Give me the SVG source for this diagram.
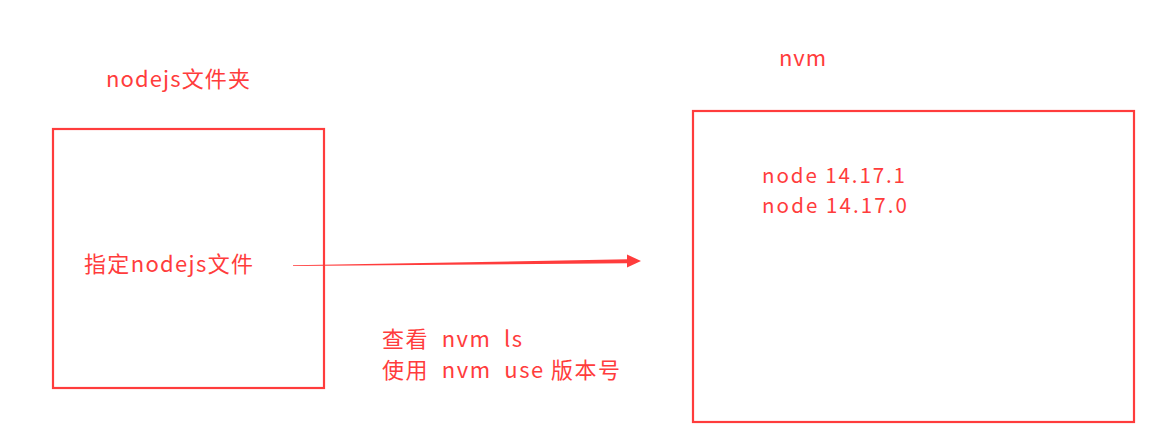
<svg xmlns="http://www.w3.org/2000/svg" width="1167" height="442" viewBox="0 0 1167 442">
<style>
.box{fill:none;stroke:#ff3c3c;stroke-width:2.2}
.t{fill:#ff3c3c;font-family:"Noto Sans CJK SC","Noto Sans",sans-serif;font-size:22px}
.v{font-size:20.5px}
</style>
<rect width="1167" height="442" fill="#ffffff"/>
<g id="label-nodejs-folder"><text class="t" x="106" y="87" textLength="144" lengthAdjust="spacing">nodejs文件夹</text></g>
<g id="node-nodejs">
<rect class="box" x="53" y="129" width="271" height="259"/>
<text class="t" x="84" y="272" textLength="169" lengthAdjust="spacing">指定nodejs文件</text>
</g>
<g id="label-nvm"><text class="t" x="779" y="66" textLength="47" lengthAdjust="spacing">nvm</text></g>
<g id="node-nvm">
<rect class="box" x="693" y="111" width="441" height="311"/>
<text class="t v" x="762" y="183" textLength="143" lengthAdjust="spacing">node 14.17.1</text>
<text class="t v" x="762" y="213" textLength="145" lengthAdjust="spacing">node 14.17.0</text>
</g>
<g id="label-commands">
<text class="t" x="382" y="347" xml:space="preserve" textLength="140" lengthAdjust="spacing">查看  nvm  ls</text>
<text class="t" x="382" y="378" xml:space="preserve" textLength="238" lengthAdjust="spacing">使用  nvm  use 版本号</text>
</g>
<g id="connectors">
<path d="M293,265.3 L628,259.3 L628,263.3 L293,265.9 Z" fill="#ff3c3c"/>
<path d="M627,254.5 L641,261 L627,267.5 Z" fill="#ff3c3c"/>
</g>
</svg>
